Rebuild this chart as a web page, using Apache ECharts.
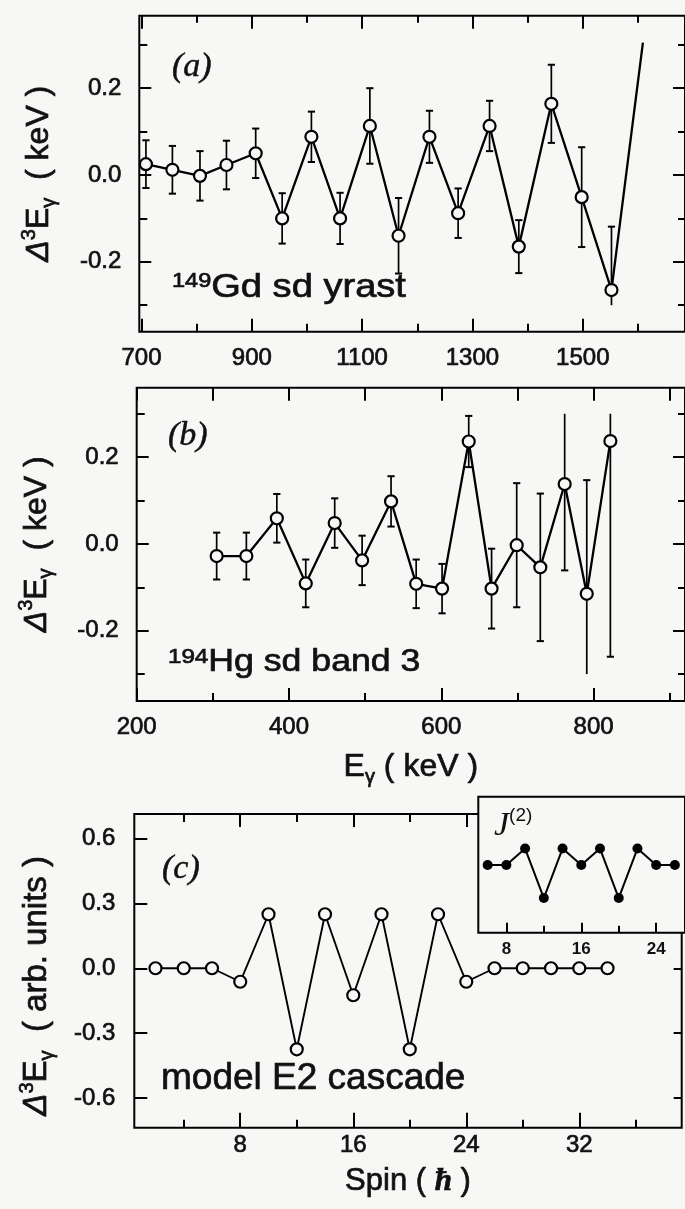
<!DOCTYPE html>
<html>
<head>
<meta charset="utf-8">
<script src="https://cdn.jsdelivr.net/npm/echarts@6/dist/echarts.min.js"></script>
<style>
  html, body { margin: 0; padding: 0; background: #f7f7f5; }
  #chart { width: 685px; height: 1209px; }
</style>
</head>
<body>
<div id="chart"></div>
<script>
// (a) 149Gd superdeformed yrast band: third difference of gamma-ray energies (keV)
const gdEnergy = [708, 756, 806, 854, 907, 955, 1008, 1060, 1114, 1166, 1222, 1274, 1331, 1384, 1443, 1498, 1552];
const gdDelta  = [0.025, 0.012, -0.002, 0.023, 0.050, -0.100, 0.088, -0.100, 0.113, -0.140, 0.088, -0.088, 0.113, -0.165, 0.164, -0.051, -0.265];
const gdError  = [0.055, 0.055, 0.057, 0.056, 0.057, 0.058, 0.058, 0.059, 0.087, 0.087, 0.060, 0.057, 0.058, 0.061, 0.090, 0.115, 0.146];
// the line continues towards the next (off-scale) transition
const gdNextEnergy = 1609;
const gdNextDelta  = 0.305;

// (b) 194Hg superdeformed band 3
const hgEnergy = [305, 344, 384, 422, 460, 496, 534, 567, 601, 636, 666, 699, 730, 762, 791, 822];
const hgDelta  = [-0.028, -0.028, 0.059, -0.091, 0.048, -0.038, 0.098, -0.092, -0.103, 0.236, -0.103, -0.003, -0.054, 0.138, -0.115, 0.237];
const hgError  = [0.054, 0.054, 0.056, 0.055, 0.057, 0.057, 0.058, 0.056, 0.057, 0.059, 0.092, 0.143, 0.170, 0.199, 0.262, 0.497];

// (c) model E2 cascade versus spin
const modelSpin  = [2, 4, 6, 8, 10, 12, 14, 16, 18, 20, 22, 24, 26, 28, 30, 32, 34];
const modelDelta = [0, 0, 0, -0.0625, 0.25, -0.375, 0.25, -0.125, 0.25, -0.375, 0.25, -0.0625, 0, 0, 0, 0, 0];

// inset: dynamic moment of inertia J(2) of the model cascade (arb. units)
const j2Spin  = [6, 8, 10, 12, 14, 16, 18, 20, 22, 24, 26];
const j2Value = [0, 0, 1, -2, 1, 0, 1, -2, 1, 0, 0];

// tick values
const gdTicksMajor     = [700, 900, 1100, 1300, 1500];
const gdTicksMinor     = [800, 1000, 1200, 1400, 1600];
const hgTicksMajor     = [200, 400, 600, 800];
const hgTicksMinor     = [300, 500, 700, 900];
const deltaTicksMajor  = [-0.2, 0, 0.2];
const deltaTicksMinor  = [-0.3, -0.1, 0.1, 0.3];
const spinTicksMajor   = [8, 16, 24, 32];
const spinTicksMinor   = [4, 12, 20, 28, 36];
const modelTicks       = [-0.6, -0.3, 0, 0.3, 0.6];
const insetTicksMajor  = [8, 16, 24];
const insetTicksMinor  = [12, 20];

// error bars are drawn up to this magnitude; bars reaching it lose their cap
const barLimit = 0.3;

const BG = '#f7f7f5';
const INK = '#111';
const SANS = '"Liberation Sans", Arial, Helvetica, sans-serif';
const SERIF = '"Liberation Serif", "Times New Roman", serif';
const HEAVY = 0.7;   // extra outline that thickens the printed lettering

const xAxes = [];
const yAxes = [];

function tickAxis(kind, o) {
  const ax = {
    type: 'value',
    gridIndex: o.grid,
    position: o.position,
    min: o.min,
    max: o.max,
    z: o.z || 0,
    axisLine: { show: false, onZero: false },
    splitLine: { show: false },
    axisTick: {
      show: true, inside: true, length: o.length,
      customValues: o.ticks,
      lineStyle: { color: '#000', width: 2 }
    },
    axisLabel: o.labels ? {
      show: true,
      customValues: o.labels,
      margin: o.margin,
      color: INK,
      fontFamily: SANS,
      fontSize: o.fontSize || 24,
      fontWeight: o.fontWeight || 'normal',
      textBorderColor: INK,
      textBorderWidth: o.heavy == null ? HEAVY : o.heavy,
      formatter: o.format
    } : { show: false }
  };
  if (o.name) {
    ax.name = o.name;
    ax.nameLocation = 'middle';
    ax.nameGap = o.nameGap;
    if (kind === 'y') ax.nameRotate = 90;
    ax.nameTextStyle = o.nameStyle;
  }
  const list = kind === 'x' ? xAxes : yAxes;
  list.push(ax);
  return list.length - 1;
}

function titleRich(size) {
  const sub = Math.round(size * 0.62);
  const ink = { color: INK, textBorderColor: INK, textBorderWidth: HEAVY };
  return {
    d: Object.assign({ fontFamily: SANS, fontSize: size, fontStyle: 'italic', lineHeight: 40 }, ink),
    sup: Object.assign({ fontFamily: SANS, fontSize: sub, verticalAlign: 'top', lineHeight: sub }, ink),
    e: Object.assign({ fontFamily: SANS, fontSize: size, lineHeight: 40 }, ink),
    sub: Object.assign({ fontFamily: SANS, fontSize: sub, verticalAlign: 'bottom', lineHeight: sub + 2 }, ink),
    n: Object.assign({ fontFamily: SANS, fontSize: size, lineHeight: 40 }, ink),
    h: Object.assign({ fontFamily: SERIF, fontSize: size, fontStyle: 'italic', fontWeight: 'bold', lineHeight: 40 }, ink)
  };
}

const fmt1 = v => (Math.abs(v) < 1e-9 ? 0 : v).toFixed(1);
const fmt0 = v => String(Math.round(v));

// ---- panel (a) ----
const aRange = { grid: 0, min: 696, max: 1685.3 };
const aY = { grid: 0, min: -0.361, max: 0.367 };
const ax0 = tickAxis('x', Object.assign({ position: 'bottom', ticks: gdTicksMajor, length: 13, labels: gdTicksMajor, margin: 15, format: fmt0 }, aRange));
tickAxis('x', Object.assign({ position: 'bottom', ticks: gdTicksMinor, length: 8 }, aRange));
tickAxis('x', Object.assign({ position: 'top', ticks: gdTicksMajor, length: 13 }, aRange));
tickAxis('x', Object.assign({ position: 'top', ticks: gdTicksMinor, length: 7 }, aRange));
const ay0 = tickAxis('y', Object.assign({
  position: 'left', ticks: deltaTicksMajor, length: 12, labels: deltaTicksMajor, margin: 18, format: fmt1,
  name: '{d|Δ}{sup|3}{e|E}{sub|γ}{n|  ( keV )}', nameGap: 80,
  nameStyle: { rich: titleRich(32), lineHeight: 40 }
}, aY));
tickAxis('y', Object.assign({ position: 'left', ticks: deltaTicksMinor, length: 8 }, aY));
tickAxis('y', Object.assign({ position: 'right', ticks: deltaTicksMajor, length: 12 }, aY));
tickAxis('y', Object.assign({ position: 'right', ticks: deltaTicksMinor, length: 7 }, aY));

// ---- panel (b) ----
const bRange = { grid: 1, min: 200, max: 920 };
const bY = { grid: 1, min: -0.362, max: 0.360 };
const bx0 = tickAxis('x', Object.assign({
  position: 'bottom', ticks: hgTicksMajor, length: 13, labels: hgTicksMajor, margin: 14, format: fmt0,
  name: '{e|E}{sub|γ}{n| ( keV )}', nameGap: 46,
  nameStyle: { rich: titleRich(32), lineHeight: 40 }
}, bRange));
tickAxis('x', Object.assign({ position: 'bottom', ticks: hgTicksMinor, length: 8 }, bRange));
tickAxis('x', Object.assign({ position: 'top', ticks: hgTicksMajor, length: 13 }, bRange));
tickAxis('x', Object.assign({ position: 'top', ticks: hgTicksMinor, length: 13 }, bRange));
const by0 = tickAxis('y', Object.assign({
  position: 'left', ticks: deltaTicksMajor, length: 12, labels: deltaTicksMajor, margin: 18, format: fmt1,
  name: '{d|Δ}{sup|3}{e|E}{sub|γ}{n|  ( keV )}', nameGap: 80,
  nameStyle: { rich: titleRich(32), lineHeight: 40 }
}, bY));
tickAxis('y', Object.assign({ position: 'left', ticks: deltaTicksMinor, length: 8 }, bY));
tickAxis('y', Object.assign({ position: 'right', ticks: deltaTicksMajor, length: 12 }, bY));
tickAxis('y', Object.assign({ position: 'right', ticks: deltaTicksMinor, length: 7 }, bY));

// ---- panel (c) ----
const cRange = { grid: 2, min: 0.5, max: 39.25 };
const cY = { grid: 2, min: -0.738, max: 0.714 };
const cx0 = tickAxis('x', Object.assign({
  position: 'bottom', ticks: spinTicksMajor, length: 15, labels: spinTicksMajor, margin: 6, format: fmt0,
  name: '{n|Spin ( }{h|ħ}{n| )}', nameGap: 34,
  nameStyle: { rich: titleRich(31), lineHeight: 40 }
}, cRange));
tickAxis('x', Object.assign({ position: 'bottom', ticks: spinTicksMinor, length: 8 }, cRange));
tickAxis('x', Object.assign({ position: 'top', ticks: spinTicksMajor, length: 13 }, cRange));
tickAxis('x', Object.assign({ position: 'top', ticks: spinTicksMinor, length: 8 }, cRange));
const cy0 = tickAxis('y', Object.assign({
  position: 'left', ticks: modelTicks, length: 13, labels: modelTicks, margin: 19, format: fmt1,
  name: '{d|Δ}{sup|3}{e|E}{sub|γ}{n|  ( arb. units )}', nameGap: 77,
  nameStyle: { rich: titleRich(33), lineHeight: 40, padding: [0, 30, 0, 0] }
}, cY));
tickAxis('y', Object.assign({ position: 'right', ticks: modelTicks, length: 8 }, cY));

// ---- inset ----
const dRange = { grid: 3, min: 5, max: 27.08, z: 11 };
const dY = { grid: 3, min: -4.1, max: 4.14, z: 11 };
const dx0 = tickAxis('x', Object.assign({
  position: 'bottom', ticks: insetTicksMajor, length: 10, labels: insetTicksMajor, margin: 8,
  fontSize: 17, fontWeight: 'bold', heavy: 0, format: fmt0
}, dRange));
tickAxis('x', Object.assign({ position: 'bottom', ticks: insetTicksMinor, length: 7 }, dRange));
const dy0 = tickAxis('y', Object.assign({ position: 'left', ticks: [], length: 0 }, dY));

function errorBars(xi, yi, xs, ys, errs) {
  return {
    type: 'custom',
    xAxisIndex: xi, yAxisIndex: yi,
    z: 1, silent: true,
    data: xs.map((x, i) => [x, ys[i], errs[i]]),
    renderItem: (params, api) => {
      const x = api.value(0), y = api.value(1), e = api.value(2);
      const hi = Math.min(y + e, barLimit);
      const lo = Math.max(y - e, -barLimit);
      const p1 = api.coord([x, hi]);
      const p2 = api.coord([x, lo]);
      const capHalf = 3.6;
      const kids = [{
        type: 'line',
        shape: { x1: p1[0], y1: p1[1], x2: p2[0], y2: p2[1] },
        style: { stroke: '#000', lineWidth: 1.7 }
      }];
      if (y + e <= barLimit + 1e-9) {
        kids.push({ type: 'line', shape: { x1: p1[0] - capHalf, y1: p1[1], x2: p1[0] + capHalf, y2: p1[1] },
          style: { stroke: '#000', lineWidth: 2 } });
      }
      if (y - e >= -barLimit - 1e-9) {
        kids.push({ type: 'line', shape: { x1: p2[0] - capHalf, y1: p2[1], x2: p2[0] + capHalf, y2: p2[1] },
          style: { stroke: '#000', lineWidth: 2 } });
      }
      return { type: 'group', children: kids };
    }
  };
}

function openLine(xi, yi, data, size, width) {
  return {
    type: 'line',
    xAxisIndex: xi, yAxisIndex: yi,
    z: 3,
    data: data,
    symbol: 'circle',
    symbolSize: size,
    showAllSymbol: true,
    itemStyle: { color: BG, borderColor: '#000', borderWidth: 2.2 },
    lineStyle: { color: '#000', width: width },
    emphasis: { disabled: true },
    silent: true
  };
}

const gdPoints = gdEnergy.map((x, i) => [x, gdDelta[i]]);
gdPoints.push({ value: [gdNextEnergy, gdNextDelta], symbol: 'none' });
const hgPoints = hgEnergy.map((x, i) => [x, hgDelta[i]]);
const modelPoints = modelSpin.map((x, i) => [x, modelDelta[i]]);
const j2Points = j2Spin.map((x, i) => [x, j2Value[i]]);

const frame = { show: true, borderColor: '#000', borderWidth: 2, backgroundColor: 'transparent' };

function panelTag(text, x, y) {
  return { type: 'text', x: x, y: y, z: 100, silent: true,
    style: { text: text, fontFamily: SERIF, fontSize: 34, fontStyle: 'italic', fill: INK,
      stroke: INK, lineWidth: 0.5, verticalAlign: 'middle' } };
}

function isotopeTag(mass, rest, x, y, size, supSize, stretch) {
  return { type: 'text', x: x, y: y, z: 100, silent: true, scaleX: stretch,
    style: {
      text: '{s|' + mass + '}{m|' + rest + '}', fill: INK, verticalAlign: 'top',
      rich: {
        s: { fontFamily: SANS, fontSize: supSize, lineHeight: supSize, verticalAlign: 'top', fill: INK, stroke: INK, lineWidth: HEAVY },
        m: { fontFamily: SANS, fontSize: size, lineHeight: size, fill: INK, stroke: INK, lineWidth: HEAVY }
      }
    } };
}

const option = {
  backgroundColor: BG,
  animation: false,
  grid: [
    Object.assign({ left: 139.3, top: 15.7, width: 547, height: 316 }, frame),
    Object.assign({ left: 136.7, top: 387.7, width: 550, height: 313.3 }, frame),
    Object.assign({ left: 134.3, top: 814, width: 547.4, height: 313.7 }, frame),
    Object.assign({ left: 478.3, top: 796.7, width: 212, height: 136 }, frame, { backgroundColor: BG, z: 10 })
  ],
  xAxis: xAxes,
  yAxis: yAxes,
  series: [
    errorBars(ax0, ay0, gdEnergy, gdDelta, gdError),
    openLine(ax0, ay0, gdPoints, 12, 2.3),
    errorBars(bx0, by0, hgEnergy, hgDelta, hgError),
    openLine(bx0, by0, hgPoints, 12, 2.3),
    openLine(cx0, cy0, modelPoints, 12, 1.9),
    {
      type: 'line',
      xAxisIndex: dx0, yAxisIndex: dy0,
      z: 12,
      data: j2Points,
      symbol: 'circle',
      symbolSize: 10,
      itemStyle: { color: '#000' },
      lineStyle: { color: '#000', width: 2 },
      emphasis: { disabled: true },
      silent: true
    }
  ],
  graphic: [
    panelTag('(a)', 172, 67),
    panelTag('(b)', 168, 436),
    panelTag('(c)', 162, 869),
    isotopeTag('149', 'Gd sd yrast', 172, 271, 34, 21, 1.12),
    isotopeTag('194', 'Hg sd band 3', 168, 647, 31, 21, 1.15),
    { type: 'text', x: 161, y: 1060, z: 100, silent: true,
      style: { text: 'model E2 cascade', fontFamily: SANS, fontSize: 37, lineHeight: 37, fill: INK,
        stroke: INK, lineWidth: HEAVY, verticalAlign: 'top' } },
    { type: 'text', x: 494, y: 806, z: 100, silent: true,
      style: {
        text: '{j|J}{s|(2)}', fill: INK, verticalAlign: 'top',
        rich: {
          j: { fontFamily: SERIF, fontSize: 34, fontStyle: 'italic', lineHeight: 40, fill: INK },
          s: { fontFamily: SANS, fontSize: 19, lineHeight: 19, verticalAlign: 'top', fill: INK }
        }
      } }
  ]
};

const chart = echarts.init(document.getElementById('chart'), null, { renderer: 'canvas' });
chart.setOption(option);
</script>
</body>
</html>
